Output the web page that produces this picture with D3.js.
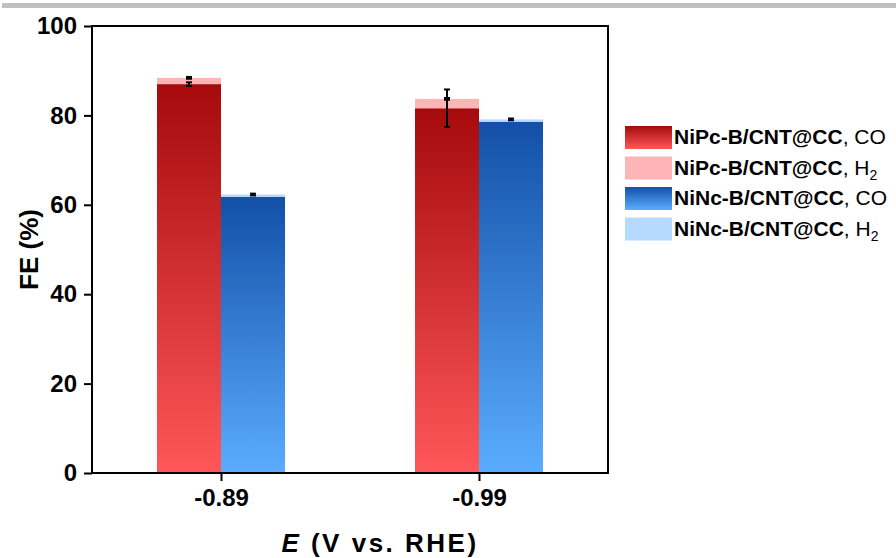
<!DOCTYPE html>
<html>
<head>
<meta charset="utf-8">
<script src="https://cdn.jsdelivr.net/npm/d3@7"></script>
<style>
  html, body { margin: 0; padding: 0; background: #fff; }
  svg { display: block; font-family: "Liberation Sans", Arial, sans-serif; }
</style>
</head>
<body>
<svg id="chart" width="896" height="558"></svg>
<script>
// Potentials (V vs. RHE)
const categories = ["-0.89", "-0.99"];

// Faradaic efficiencies (%) and their error bars
const niPcCO = [87.0, 81.6];
const niPcCOErr = [0.4, 4.2];
const niPcH2 = [1.4, 2.1];
const niPcH2Err = [0.2, 0.2];
const niNcCO = [61.8, 78.6];
const niNcCOErr = [0, 0];
const niNcH2 = [0.5, 0.5];
const niNcH2Err = [0.2, 0.2];

const yTicks = [0, 20, 40, 60, 80, 100];

const legendItems = [
  { name: "NiPc-B/CNT@CC", product: "CO", fill: "url(#gradRed)" },
  { name: "NiPc-B/CNT@CC", product: "H2", fill: "#ffb4b6" },
  { name: "NiNc-B/CNT@CC", product: "CO", fill: "url(#gradBlue)" },
  { name: "NiNc-B/CNT@CC", product: "H2", fill: "#b6daff" }
];

const svg = d3.select("#chart");
const margin = { left: 92, right: 288, top: 26, bottom: 85 };
const W = 896, H = 558;
const x0 = margin.left, x1 = W - margin.right;
const y0 = H - margin.bottom, y1 = margin.top;

// grey strip along the top edge
svg.append("rect").attr("x", 2).attr("y", 3).attr("width", W - 2).attr("height", 5).attr("fill", "#c0c0c0");

// vertical gradients for the CO bars
const defs = svg.append("defs");
function grad(id, top, bottom) {
  const g = defs.append("linearGradient").attr("id", id)
    .attr("x1", 0).attr("y1", 0).attr("x2", 0).attr("y2", 1);
  g.append("stop").attr("offset", "0%").attr("stop-color", top);
  g.append("stop").attr("offset", "100%").attr("stop-color", bottom);
}
grad("gradRed", "#a50a0c", "#ff575a");
grad("gradBlue", "#1350a8", "#5aacff");

const x = d3.scalePoint().domain(categories).range([x0, x1]).padding(0.5);
const y = d3.scaleLinear().domain([0, 100]).range([y0, y1]);
const barW = 64;

// stacked series: values, base values, fill, offset from the category centre
const series = [
  { vals: niPcCO, base: [0, 0], fill: "url(#gradRed)", off: -barW },
  { vals: niPcH2, base: niPcCO, fill: "#ffb4b6", off: -barW },
  { vals: niNcCO, base: [0, 0], fill: "url(#gradBlue)", off: 0 },
  { vals: niNcH2, base: niNcCO, fill: "#b6daff", off: 0 }
];

series.forEach(s => {
  svg.append("g").selectAll("rect")
    .data(categories)
    .join("rect")
    .attr("x", (c) => x(c) + s.off)
    .attr("width", barW)
    .attr("y", (c, i) => y(s.base[i] + s.vals[i]))
    .attr("height", (c, i) => y(s.base[i]) - y(s.base[i] + s.vals[i]))
    .attr("fill", s.fill);
});

// error bars
const errSets = [
  { center: niPcCO, err: niPcCOErr, off: -barW / 2 },
  { center: niPcCO.map((v, i) => v + niPcH2[i]), err: niPcH2Err, off: -barW / 2 },
  { center: niNcCO, err: niNcCOErr, off: barW / 2 },
  { center: niNcCO.map((v, i) => v + niNcH2[i]), err: niNcH2Err, off: barW / 2 }
];
const capW = 3;
errSets.forEach(e => {
  categories.forEach((c, i) => {
    if (!(e.err[i] > 0)) return;
    const cx = x(c) + e.off;
    const top = y(e.center[i] + e.err[i]);
    const bot = y(e.center[i] - e.err[i]);
    const g = svg.append("g").attr("stroke", "#000").attr("stroke-width", 2);
    g.append("line").attr("x1", cx).attr("x2", cx).attr("y1", top).attr("y2", bot);
    g.append("line").attr("x1", cx - capW).attr("x2", cx + capW).attr("y1", top).attr("y2", top);
    g.append("line").attr("x1", cx - capW).attr("x2", cx + capW).attr("y1", bot).attr("y2", bot);
  });
});

// frame
svg.append("rect").attr("x", x0).attr("y", y1).attr("width", x1 - x0).attr("height", y0 - y1)
  .attr("fill", "none").attr("stroke", "#000").attr("stroke-width", 2);

// axes
const yAxis = svg.append("g").attr("transform", `translate(${x0},0)`)
  .call(d3.axisLeft(y).tickValues(yTicks).tickSize(8).tickPadding(7).tickFormat(d3.format("d")));
const xAxis = svg.append("g").attr("transform", `translate(0,${y0})`)
  .call(d3.axisBottom(x).tickSize(8).tickPadding(8));
[yAxis, xAxis].forEach(a => {
  a.select(".domain").remove();
  a.selectAll(".tick line").attr("stroke", "#000").attr("stroke-width", 2);
  a.selectAll(".tick text").attr("fill", "#000").attr("font-size", 24).attr("font-weight", "bold")
    .attr("font-family", "'Liberation Sans', Arial, sans-serif");
});

// axis titles
svg.append("text")
  .attr("transform", `translate(38,${(y0 + y1) / 2}) rotate(-90)`)
  .attr("text-anchor", "middle").attr("font-size", 26).attr("font-weight", "bold")
  .text("FE (%)");

const xt = svg.append("text")
  .attr("x", 380).attr("y", 552)
  .attr("text-anchor", "middle").attr("font-size", 26).attr("font-weight", "bold")
  .attr("letter-spacing", 2.5);
xt.append("tspan").attr("font-style", "italic").text("E");
xt.append("tspan").text(" (V vs. RHE)");

// legend
const lg = svg.append("g").attr("transform", "translate(625,126)");
legendItems.forEach((d, i) => {
  const row = lg.append("g").attr("transform", `translate(0,${i * 30.5})`);
  row.append("rect").attr("width", 47).attr("height", 23).attr("fill", d.fill);
  const t = row.append("text").attr("x", 49).attr("y", 18).attr("font-size", 21);
  t.append("tspan").attr("font-weight", "bold").text(d.name);
  if (d.product === "H2") {
    t.append("tspan").text(", H");
    t.append("tspan").attr("font-size", 14).attr("dy", 5).text("2");
  } else {
    t.append("tspan").text(", CO");
  }
});
</script>
</body>
</html>
